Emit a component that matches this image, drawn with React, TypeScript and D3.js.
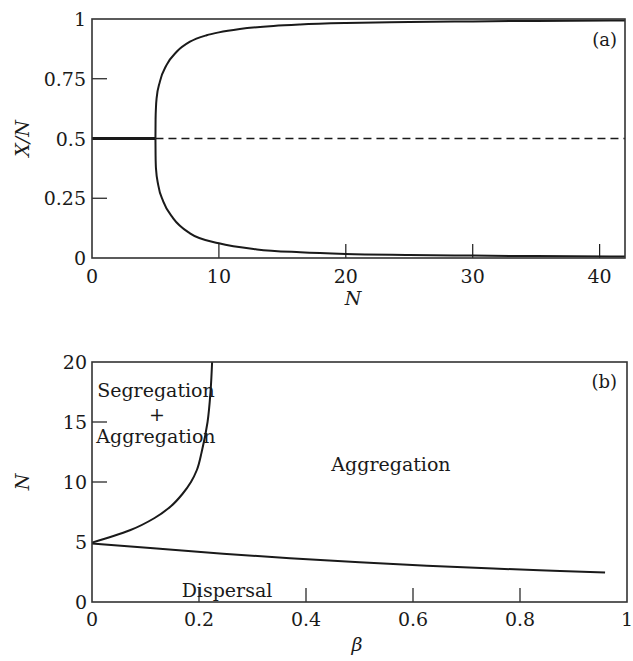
import React from 'react'
import * as d3 from 'd3'

// panel (a): X/N against N
const upperN = [5, 5.01, 5.04, 5.09, 5.35, 5.88, 6.67, 7.72, 9.03, 10, 11.65, 14.3, 16.4, 20, 25, 30, 35, 42]
const upperX = [0.5, 0.58, 0.63, 0.668, 0.738, 0.808, 0.863, 0.905, 0.932, 0.944, 0.958, 0.971, 0.977, 0.983, 0.987, 0.99, 0.992, 0.994]
const lowerN = [5, 5.01, 5.04, 5.22, 5.62, 6.4, 7.72, 10, 13, 16.4, 20, 25, 30, 35, 42]
const lowerX = [0.5, 0.43, 0.375, 0.305, 0.236, 0.166, 0.103, 0.0615, 0.036, 0.024, 0.017, 0.013, 0.01, 0.008, 0.006]
const bifurcation = 5
const xTicksA = [10, 20, 30, 40]
const xLabelsA = [0, 10, 20, 30, 40]
const yTicksA = [0.25, 0.5, 0.75]
const yLabelsA = [0, 0.25, 0.5, 0.75, 1]

// panel (b): N against beta
const segN = [4.95, 5.5, 6, 7, 8, 9, 10, 11, 12.5, 15, 17.5, 20]
const segBeta = [0, 0.04, 0.072, 0.117, 0.148, 0.169, 0.185, 0.196, 0.205, 0.216, 0.2215, 0.2245]
const dispBeta = [0, 0.121, 0.245, 0.37, 0.5, 0.626, 0.75, 0.875, 0.959]
const dispN = [4.88, 4.45, 4.03, 3.65, 3.31, 3.03, 2.79, 2.59, 2.46]
const xTicksB = [0.2, 0.4, 0.6, 0.8]
const xLabelsB = [0, 0.2, 0.4, 0.6, 0.8, 1]
const yTicksB = [10, 15]
const yLabelsB = [0, 5, 10, 15, 20]

const font = "'DejaVu Serif', 'Liberation Serif', serif"
const ink = '#1a1a1a'
const tickLen = 14

export default function App () {
  const left = 92

  const xA = d3.scaleLinear().domain([0, 42]).range([left, 625])
  const yA = d3.scaleLinear().domain([0, 1]).range([258, 19])
  const xB = d3.scaleLinear().domain([0, 1]).range([left, 627])
  const yB = d3.scaleLinear().domain([0, 20]).range([602, 362])

  const lineA = d3.line<[number, number]>()
    .x(d => xA(d[0]))
    .y(d => yA(d[1]))
    .curve(d3.curveMonotoneX)
  const lineSeg = d3.line<[number, number]>()
    .x(d => xB(d[0]))
    .y(d => yB(d[1]))
    .curve(d3.curveMonotoneY)
  const lineDisp = d3.line<[number, number]>()
    .x(d => xB(d[0]))
    .y(d => yB(d[1]))
    .curve(d3.curveMonotoneX)

  const upper = upperN.map((n, i) => [n, upperX[i]] as [number, number])
  const lower = lowerN.map((n, i) => [n, lowerX[i]] as [number, number])
  const seg = segBeta.map((b, i) => [b, segN[i]] as [number, number])
  const disp = dispBeta.map((b, i) => [b, dispN[i]] as [number, number])

  const txt = { fontFamily: font, fontSize: 19 }

  return (
    <svg width={633} height={661} style={{ position: 'absolute', left: 0, top: 0, fontFamily: font }} fill={ink}>
      {/* panel (a) */}
      <g>
        <line x1={xA(0)} x2={xA(bifurcation)} y1={yA(0.5)} y2={yA(0.5)} stroke={ink} strokeWidth={3.2} />
        <line x1={xA(bifurcation)} x2={xA(42)} y1={yA(0.5)} y2={yA(0.5)} stroke={ink} strokeWidth={1.3} strokeDasharray='8 5' />
        <path d={lineA(upper) || ''} fill='none' stroke={ink} strokeWidth={2} />
        <path d={lineA(lower) || ''} fill='none' stroke={ink} strokeWidth={2} />
        {xTicksA.map(t => (
          <line key={t} x1={xA(t)} x2={xA(t)} y1={yA(0)} y2={yA(0) - tickLen} stroke={ink} strokeWidth={1.2} />
        ))}
        {yTicksA.map(t => (
          <line key={t} x1={left} x2={left + 15} y1={yA(t)} y2={yA(t)} stroke={ink} strokeWidth={1.2} />
        ))}
        <rect x={left} y={19} width={625 - left} height={258 - 19} fill='none' stroke='#333' strokeWidth={1.6} />
        {xLabelsA.map(t => (
          <text key={t} x={xA(t)} y={283} textAnchor='middle' style={txt}>{t}</text>
        ))}
        {yLabelsA.map(t => (
          <text key={t} x={86} y={yA(t) + 7} textAnchor='end' style={txt}>{t}</text>
        ))}
        <text x={617} y={46} textAnchor='end' style={{ ...txt, fontSize: 18 }}>(a)</text>
        <text x={353} y={305} textAnchor='middle' style={{ ...txt, fontStyle: 'italic' }}>N</text>
        <text transform={`translate(29,${yA(0.5)}) rotate(-90)`} textAnchor='middle' style={{ ...txt, fontStyle: 'italic' }}>X/N</text>
      </g>

      {/* panel (b) */}
      <g>
        <path d={lineSeg(seg) || ''} fill='none' stroke={ink} strokeWidth={2} />
        <path d={lineDisp(disp) || ''} fill='none' stroke={ink} strokeWidth={2} />
        {xTicksB.map(t => (
          <line key={t} x1={xB(t)} x2={xB(t)} y1={yB(0)} y2={yB(0) - tickLen} stroke={ink} strokeWidth={1.2} />
        ))}
        {yTicksB.map(t => (
          <line key={t} x1={left} x2={left + 15} y1={yB(t)} y2={yB(t)} stroke={ink} strokeWidth={1.2} />
        ))}
        <rect x={left} y={362} width={627 - left} height={602 - 362} fill='none' stroke='#333' strokeWidth={1.6} />
        {xLabelsB.map(t => (
          <text key={t} x={xB(t)} y={626} textAnchor='middle' style={txt}>{t}</text>
        ))}
        {yLabelsB.map(t => (
          <text key={t} x={87} y={yB(t) + 7} textAnchor='end' style={txt}>{t}</text>
        ))}
        <text x={617} y={388} textAnchor='end' style={{ ...txt, fontSize: 18 }}>(b)</text>
        <text x={156} y={397} textAnchor='middle' style={txt}>Segregation</text>
        <text x={157} y={421} textAnchor='middle' style={txt}>+</text>
        <text x={156} y={443} textAnchor='middle' style={txt}>Aggregation</text>
        <text x={391} y={471} textAnchor='middle' style={txt}>Aggregation</text>
        <text x={227} y={597} textAnchor='middle' style={txt}>Dispersal</text>
        <text x={357} y={651} textAnchor='middle' style={{ ...txt, fontStyle: 'italic' }}>β</text>
        <text transform={`translate(29,${yB(10)}) rotate(-90)`} textAnchor='middle' style={{ ...txt, fontStyle: 'italic' }}>N</text>
      </g>
    </svg>
  )
}
